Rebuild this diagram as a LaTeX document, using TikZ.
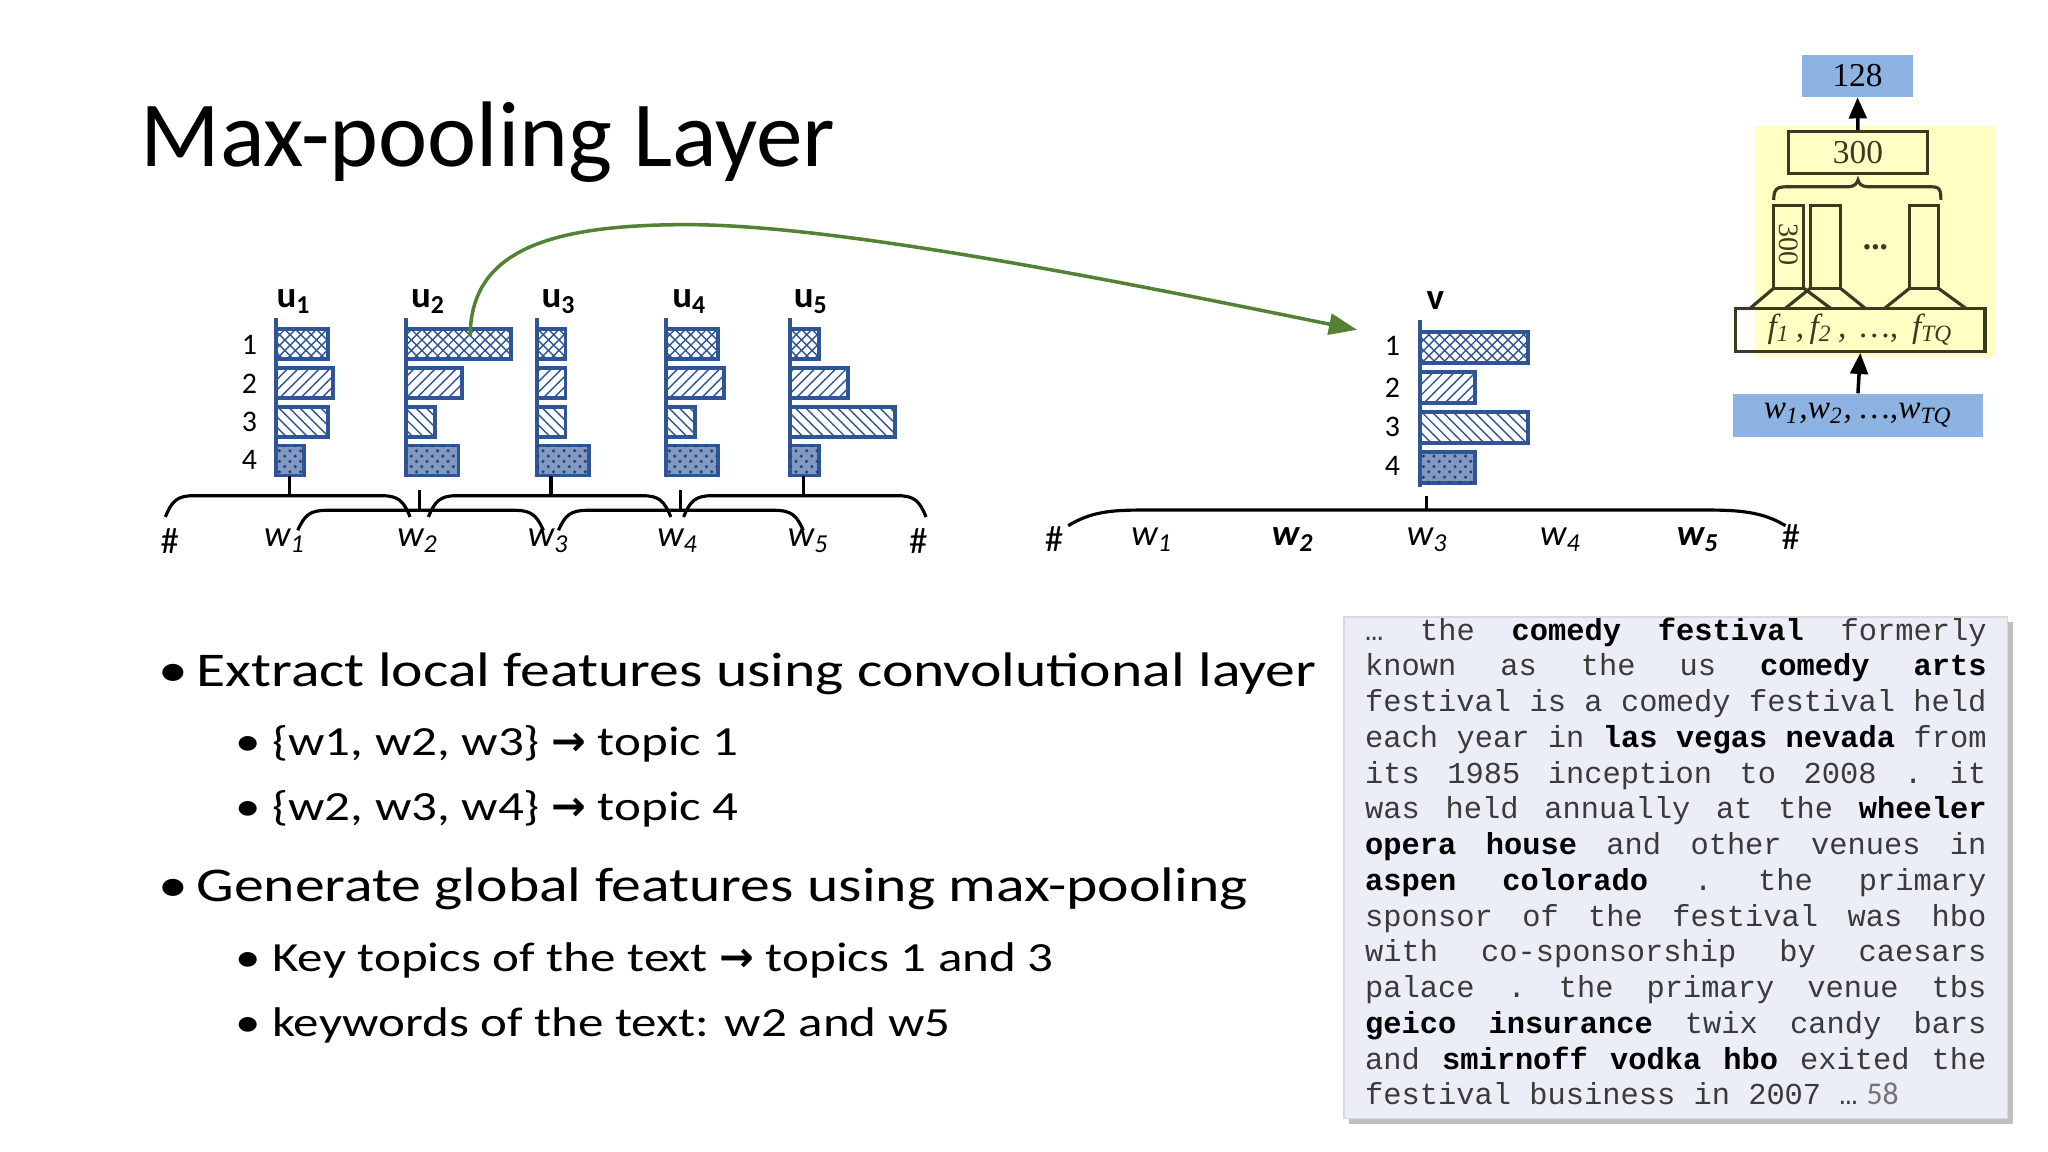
\documentclass[tikz,border=0pt]{standalone}
\usepackage{fontspec}
\setmainfont{Carlito}
\newfontfamily\wide[FakeStretch=1.23]{Carlito}
\newfontfamily\mono{Liberation Mono}
\newfontfamily\tnr{Liberation Serif}
\newfontfamily\dvs{DejaVu Sans}
\usetikzlibrary{patterns,arrows.meta,shadows}
\definecolor{barc}{HTML}{2F5597}
\definecolor{gline}{HTML}{548235}
\definecolor{bluebox}{HTML}{8DB3E2}
\definecolor{yel}{HTML}{FFFFC4}
\definecolor{olive}{HTML}{3A3A20}
\definecolor{boxfill}{HTML}{EBEEF6}
\definecolor{txtgray}{HTML}{3A3A3A}
\tikzset{
  barline/.style={draw=barc,line width=1.1pt},
  brk/.style={draw=black,line width=0.9pt},
  rownum/.style={font=\fontsize{8.5}{9}\selectfont,inner sep=0pt},
  ulab/.style={font=\fontsize{10.5}{11}\selectfont\bfseries,inner sep=0pt},
  wlab/.style={font=\fontsize{10.5}{11}\selectfont\itshape,inner sep=0pt},
  pline/.style={draw=olive,line width=0.9pt},
  ptext/.style={font=\tnr\fontsize{9.5}{10}\selectfont,text=olive,inner sep=0pt},
  arr/.style={draw=black,line width=1pt,-{Triangle[length=6pt,width=5pt]}},
  jl/.style={anchor=base west,inner sep=0pt,font=\mono\fontsize{8.65}{9}\selectfont,text=txtgray},
  lev1/.style={anchor=base west,inner sep=0pt,font=\wide\fontsize{13.8}{15}\selectfont},
  lev2/.style={anchor=base west,inner sep=0pt,font=\wide\fontsize{11.8}{13}\selectfont},
}
% #1 x, #2 first top, #3 step, #4 height, #5-#8 widths
\newcommand\mybars[8]{%
  \draw[barline,pattern=crosshatch,pattern color=barc] (#1,#2) rectangle ++(#5,#4);
  \draw[barline,pattern=north east lines,pattern color=barc] (#1,#2+#3) rectangle ++(#6,#4);
  \draw[barline,pattern=north west lines,pattern color=barc] (#1,#2+2*#3) rectangle ++(#7,#4);
  \draw[barline,fill=barc!60,postaction={pattern=crosshatch dots,pattern color=barc!80!black}] (#1,#2+3*#3) rectangle ++(#8,#4);
}
% bracket: x1 x2 ytop yend
\newcommand\brk[4]{%
  \draw[brk] (#1,#4) .. controls (#1+5,#3+4) and (#1+9,#3) .. (#1+22,#3) -- (#2-22,#3) .. controls (#2-9,#3) and (#2-5,#3+4) .. (#2,#4);
}
\newcommand\B[1]{\textbf{\color{black}#1}}
\def\LW{6.2131cm}
\begin{document}
\begin{tikzpicture}[x=0.013061cm,y=-0.013061cm]
\useasboundingbox (0,0) rectangle (1568,882);
\fill[white] (0,0) rectangle (1568,882);

% title
\node[anchor=base west,inner sep=0pt,font=\fontsize{26.5}{28}\selectfont] (title) at (107,127.6) {Max-pooling Layer};

% u charts
\foreach \x/\n in {211/1,311/2,411/3,510/4,605/5}{
  \draw[barline] (\x,243.5) -- (\x,364.5);
}
\mybars{211}{252}{29.7}{23}{40}{44}{40}{22}
\mybars{311}{252}{29.7}{23}{80}{43}{22}{40}
\mybars{411}{252}{29.7}{23}{22}{22}{22}{40}
\mybars{510}{252}{29.7}{23}{40}{44}{22}{40}
\mybars{605}{252}{29.7}{23}{22}{44}{80}{22}

\foreach \t/\y in {1/264,2/294,3/323,4/352}{
  \node[rownum] (r\t) at (191,\y) {\t};
}
\node[ulab] (u1) at (225,230.7) {u\textsubscript{1}};
\node[ulab] (u2) at (328,230.7) {u\textsubscript{2}};
\node[ulab] (u3) at (428,230.7) {u\textsubscript{3}};
\node[ulab] (u4) at (528,230.7) {u\textsubscript{4}};
\node[ulab] (u5) at (621,230.7) {u\textsubscript{5}};

% stems
\draw[brk] (221.6,364.5) -- (221.6,379.5);
\draw[brk] (321,375.4) -- (321,390.7);
\draw[brk] (421.8,364.5) -- (421.8,379.5);
\draw[brk] (520.7,375.4) -- (520.7,390.7);
\draw[brk] (615,364.5) -- (615,379.5);
% brackets
\brk{126.6}{314}{379.5}{395.8}
\brk{328}{513.6}{379.5}{395.8}
\brk{523.4}{709}{379.5}{395.8}
\brk{228}{416}{390.7}{406}
\brk{427.6}{615}{390.7}{406}

\node[wlab] (h1) at (130,414) {\upshape\#};
\node[wlab] (w1) at (218,414) {w\textsubscript{1}};
\node[wlab] (w2) at (320,414) {w\textsubscript{2}};
\node[wlab] (w3) at (420,414) {w\textsubscript{3}};
\node[wlab] (w4) at (519,414) {w\textsubscript{4}};
\node[wlab] (w5) at (619,414) {w\textsubscript{5}};
\node[wlab] (h2) at (703,414) {\upshape\#};

% v chart
\draw[barline] (1087,245) -- (1087,372.6);
\mybars{1087}{254}{30.7}{24}{83}{42}{83}{42}
\foreach \t/\y in {1/265,2/297,3/327,4/357}{
  \node[rownum] (vr\t) at (1066,\y) {\t};
}
\node[ulab] (v) at (1099,230) {v};
\draw[brk] (1092,379.5) -- (1092,390.5);
\draw[brk] (817.8,402.5) .. controls (835,392) and (850,390.5) .. (875,390.5) -- (1307,390.5) .. controls (1332,390.5) and (1350,392) .. (1367,402.5);
\node[wlab] (vh1) at (807,413) {\upshape\#};
\node[wlab] (vw1) at (882,413) {w\textsubscript{1}};
\node[wlab] (vw2) at (990,413) {\bfseries w\textsubscript{2}};
\node[wlab] (vw3) at (1093,413) {w\textsubscript{3}};
\node[wlab] (vw4) at (1195,413) {w\textsubscript{4}};
\node[wlab] (vw5) at (1300,413) {\bfseries w\textsubscript{5}};
\node[wlab] (vh2) at (1371,411) {\upshape\#};

% green arrow
\coordinate (gs) at (360,257.6);
\coordinate (ge) at (1039,252.5);
\draw[gline,line width=1pt,-{Triangle[length=8pt,width=6pt]}] (gs) .. controls (360,192) and (420,172) .. (526,172) .. controls (640,172) and (850,214) .. (ge);

% right panel
\fill[yel] (1343.6,96.5) rectangle (1527.5,273);
\node[fill=bluebox,minimum width=1.1167cm,minimum height=0.418cm,inner sep=0pt,ptext,text=black] (b128) at (1422.2,58) {128};
\node[pline,draw,minimum width=1.3975cm,minimum height=0.418cm,inner sep=0pt,ptext] (b300) at (1422.5,116.8) {300};
\draw[arr] (b300.north) -- (b128.south);
\draw[pline] (1358,153) .. controls (1358,143) and (1362,143) .. (1370,143) -- (1415,143) .. controls (1420,143) and (1422,140) .. (1422.5,137.8) .. controls (1423,140) and (1425,143) .. (1430,143) -- (1476,143) .. controls (1484,143) and (1486,143) .. (1486,153);
\draw[pline] (1358,157.4) rectangle (1381,220.7);
\draw[pline] (1386,157.4) rectangle (1409,220.7);
\draw[pline] (1462,157.4) rectangle (1484,220.7);
\node[ptext,rotate=-90,font=\tnr\fontsize{8}{9}\selectfont] (r300) at (1369.5,187) {300};
\node[ptext] (dots) at (1435.9,189) {\textbf{...}};
\node[pline,draw,minimum width=2.4947cm,minimum height=0.431cm,inner sep=0pt,ptext,font=\tnr\itshape\fontsize{9.5}{10}\selectfont] (fbox) at (1424.3,252.5) {f\textsubscript{1}\,,\,f\textsubscript{2}\,, \,…, \,f\textsubscript{TQ}};
\draw[pline] (1358,220.7) -- (1340,236) (1381,220.7) -- (1401.5,236);
\draw[pline] (1386,220.7) -- (1367,236) (1409,220.7) -- (1428,236);
\draw[pline] (1462,220.7) -- (1443,236) (1484,220.7) -- (1505,236);
\node[fill=bluebox,minimum width=2.4947cm,minimum height=0.427cm,inner sep=0pt,ptext,text=black,font=\tnr\itshape\fontsize{9.5}{10}\selectfont] (wbox) at (1422.5,318) {w\textsubscript{1},w\textsubscript{2}, …,w\textsubscript{TQ}};
\draw[arr] (wbox.north) -- (fbox.south);

% bullets
\node[lev1] (bu1) at (121,525.3) {•};
\node[lev1] (l1) at (149.8,525.3) {Extract local features using convolutional layer};
\node[lev2] (bu2) at (180,578.1) {•};
\node[lev2] (l2) at (208,578.1) {\{w1, w2, w3\} {\dvs\bfseries →} topic 1};
\node[lev2] (bu3) at (180,628) {•};
\node[lev2] (l3) at (208,628) {\{w2, w3, w4\} {\dvs\bfseries →} topic 4};
\node[lev1] (bu4) at (121,690.4) {•};
\node[lev1] (l4) at (149.8,690.4) {Generate global features using max-pooling};
\node[lev2] (bu5) at (180,743.5) {•};
\node[lev2] (l5) at (208,743.5) {Key topics of the text {\dvs\bfseries →} topics 1 and 3};
\node[lev2] (bu6) at (180,793.8) {•};
\node[lev2] (l6) at (208,793.8) {keywords of the text: w2 and w5};

% text box
\fill[black,opacity=0.25] (1033,476) rectangle (1541,860.5);
\filldraw[fill=boxfill,draw=black!15] (1029,472.3) rectangle (1537,856.5);
\node[jl] (t1) at (1044.7,490) {\makebox[\LW][s]{…\hfill the\hfill \B{comedy}\hfill \B{festival}\hfill formerly}};
\node[jl] (t2) at (1044.7,517.4) {\makebox[\LW][s]{known\hfill as\hfill the\hfill us\hfill \B{comedy}\hfill \B{arts}}};
\node[jl] (t3) at (1044.7,544.8) {\makebox[\LW][s]{festival\hfill is\hfill a\hfill comedy\hfill festival\hfill held}};
\node[jl] (t4) at (1044.7,572.1) {\makebox[\LW][s]{each\hfill year\hfill in\hfill \B{las}\hfill \B{vegas}\hfill \B{nevada}\hfill from}};
\node[jl] (t5) at (1044.7,599.5) {\makebox[\LW][s]{its\hfill 1985\hfill inception\hfill to\hfill 2008\hfill .\hfill it}};
\node[jl] (t6) at (1044.7,626.9) {\makebox[\LW][s]{was\hfill held\hfill annually\hfill at\hfill the\hfill \B{wheeler}}};
\node[jl] (t7) at (1044.7,654.3) {\makebox[\LW][s]{\B{opera}\hfill \B{house}\hfill and\hfill other\hfill venues\hfill in}};
\node[jl] (t8) at (1044.7,681.7) {\makebox[\LW][s]{\B{aspen}\hfill \B{colorado}\hfill .\hfill the\hfill primary}};
\node[jl] (t9) at (1044.7,709.0) {\makebox[\LW][s]{sponsor\hfill of\hfill the\hfill festival\hfill was\hfill hbo}};
\node[jl] (t10) at (1044.7,736.4) {\makebox[\LW][s]{with\hfill co-sponsorship\hfill by\hfill caesars}};
\node[jl] (t11) at (1044.7,763.8) {\makebox[\LW][s]{palace\hfill .\hfill the\hfill primary\hfill venue\hfill tbs}};
\node[jl] (t12) at (1044.7,791.2) {\makebox[\LW][s]{\B{geico}\hfill \B{insurance}\hfill twix\hfill candy\hfill bars}};
\node[jl] (t13) at (1044.7,818.6) {\makebox[\LW][s]{and\hfill \B{smirnoff}\hfill \B{vodka}\hfill \B{hbo}\hfill exited\hfill the}};
\node[jl] (t14) at (1044.7,846) {festival business in 2007 …};
\node[anchor=base west,inner sep=0pt,text=black!55,font=\fontsize{9}{10}\selectfont] (pg) at (1428.6,846) {58};
\end{tikzpicture}
\end{document}
